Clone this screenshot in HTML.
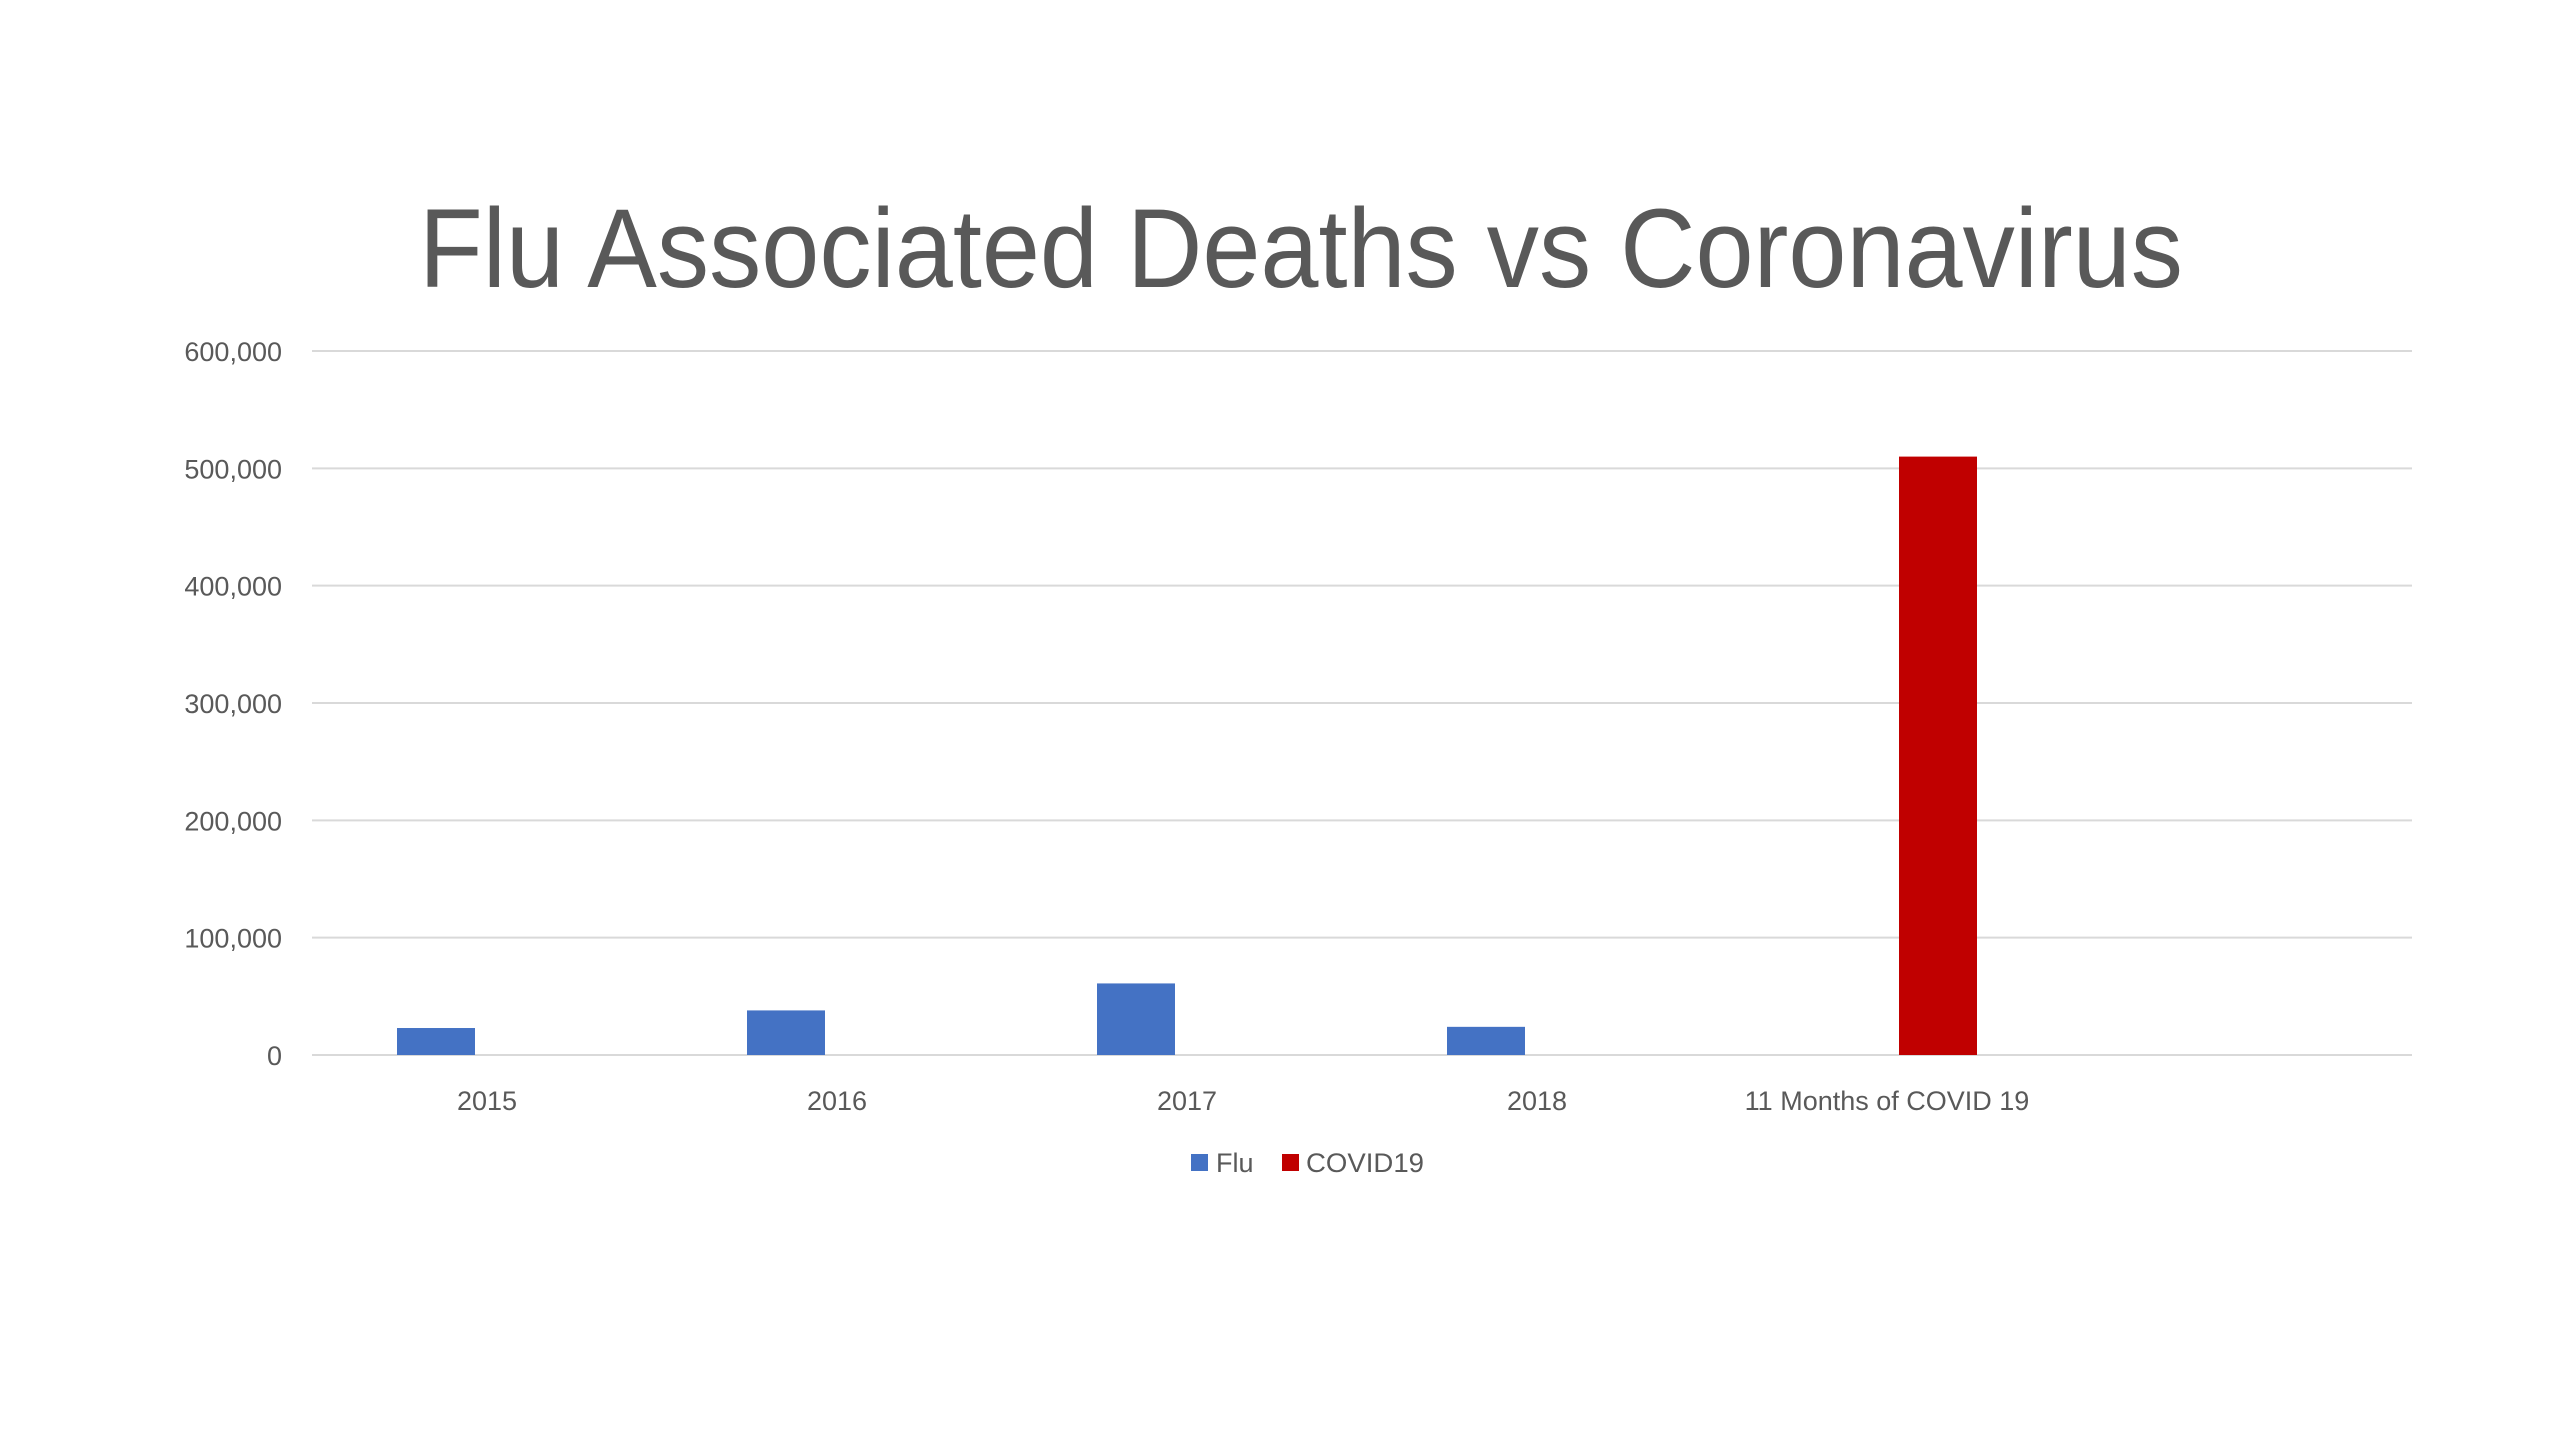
<!DOCTYPE html>
<html><head><meta charset="utf-8"><style>
html,body{margin:0;padding:0;background:#fff;}
svg{display:block;font-family:"Liberation Sans",sans-serif;}
</style></head><body>
<svg id="chart" width="2560" height="1440" viewBox="0 0 2560 1440" xmlns="http://www.w3.org/2000/svg">
<rect width="2560" height="1440" fill="#fff"/>
<text x="1301" y="287" text-anchor="middle" font-size="112" fill="#595959" textLength="1764" lengthAdjust="spacingAndGlyphs">Flu Associated Deaths vs Coronavirus</text>
<g id="grid"></g><g id="bars"></g><g id="labels"></g>
<g>
<rect x="1191" y="1154" width="17" height="17" fill="#4472c4"/>
<text x="1216" y="1172" font-size="27" fill="#595959">Flu</text>
<rect x="1282" y="1154" width="17" height="17" fill="#c00000"/>
<text x="1306" y="1172" font-size="27" fill="#595959" textLength="118" lengthAdjust="spacingAndGlyphs">COVID19</text>
</g>
</svg>
<script>
const categories = ["2015","2016","2017","2018","11 Months of COVID 19",""];
const fluValues = [23000, 38000, 61000, 24000, 0, 0];
const covidValues = [0, 0, 0, 0, 510000, 0];
const yTicks = [0,100000,200000,300000,400000,500000,600000];
const yTickLabels = ["0","100,000","200,000","300,000","400,000","500,000","600,000"];

const NS="http://www.w3.org/2000/svg";
const L=312,R=2412,T=351,B=1055,YMAX=600000;
const slot=(R-L)/categories.length, barW=78, off=51;
const y=v=>B-(v/YMAX)*(B-T);
const xc=i=>L+slot*(i+0.5);
function mk(tag,attrs,parent){const e=document.createElementNS(NS,tag);for(const k in attrs)e.setAttribute(k,attrs[k]);parent.appendChild(e);return e;}
const grid=document.getElementById('grid'),bars=document.getElementById('bars'),labels=document.getElementById('labels');
yTicks.forEach((t,i)=>{
  const g=mk('line',{x1:L,x2:R,y1:y(t),y2:y(t),stroke:'#d9d9d9','stroke-width':2},grid);
  
  
  const tx=mk('text',{x:282,y:y(t)+10,'text-anchor':'end','font-size':27,fill:'#595959'},labels);
  tx.textContent=yTickLabels[i];
  
  
});
categories.forEach((c,i)=>{
  if(fluValues[i]>0){
    const b=mk('rect',{x:xc(i)-off-barW/2,y:y(fluValues[i]),width:barW,height:B-y(fluValues[i]),fill:'#4472c4'},bars);
    
    
  }
  if(covidValues[i]>0){
    const b=mk('rect',{x:xc(i)+off-barW/2,y:y(covidValues[i]),width:barW,height:B-y(covidValues[i]),fill:'#c00000'},bars);
    
    
  }
  if(c){
    const tx=mk('text',{x:xc(i),y:1110,'text-anchor':'middle','font-size':27,fill:'#595959'},labels);
    tx.textContent=c;
    
    
  }
});
</script>
</body></html>
